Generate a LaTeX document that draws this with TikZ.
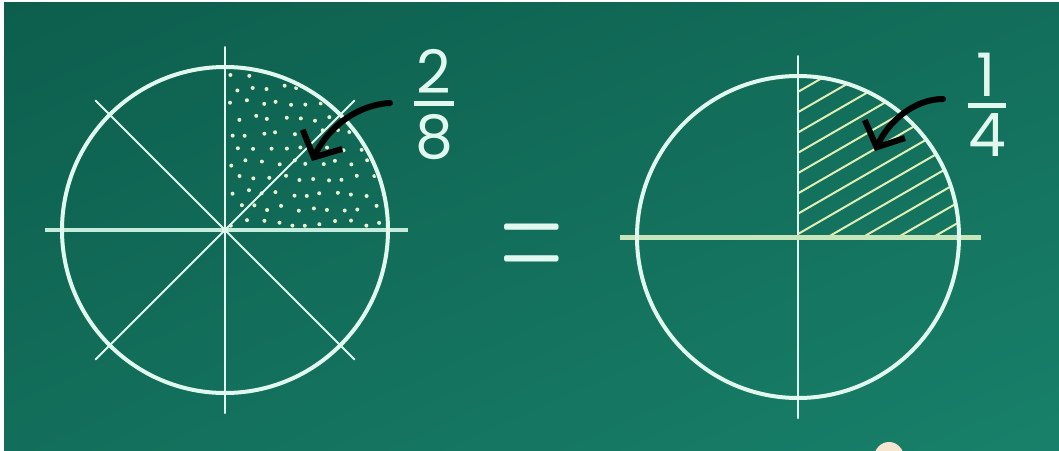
\documentclass[tikz,border=0pt]{standalone}
\usepackage{fontspec}
\setsansfont{Poppins}
\usetikzlibrary{arrows.meta, calc, shadings}
\definecolor{board}{RGB}{18,110,90}
\definecolor{boarddark}{RGB}{13,94,77}
\definecolor{boardlight}{RGB}{24,128,106}
\definecolor{chalkwhite}{RGB}{225,248,238}
\definecolor{chalkpale}{RGB}{196,236,220}
\definecolor{chalkgreen}{RGB}{198,230,186}
\definecolor{chalkhatch}{RGB}{225,238,180}
\definecolor{chalkdot}{RGB}{232,242,205}
\definecolor{skin}{RGB}{246,230,208}

\begin{document}
\begin{tikzpicture}[
  x=0.5pt, y=-0.5pt,
  rim/.style={draw=chalkwhite, line width=2pt},
  ray/.style={draw=chalkwhite, line width=1pt, line cap=round},
  hatch/.style={draw=chalkhatch, line width=1pt},
  fracbar/.style={draw=chalkwhite, line width=2.5pt},
  digit/.style={text=chalkwhite, font=\sffamily\fontsize{30}{30}\selectfont, inner sep=0pt},
  pointer/.style={draw=black, line width=3pt, line cap=round, -{Straight Barb[length=10pt, width=22pt]}}
]
\useasboundingbox (0,0) rectangle (1059,450);
\fill[white] (0,0) rectangle (1059,450);
\shade[upper left=boarddark, upper right=board, lower left=board, lower right=boardlight] (4,2) rectangle (1059,450);

\coordinate (o1) at (225,230);
\coordinate (o2) at (798,237);

% dotted eighths
\begin{scope}
  \clip (o1) -- ++(160,0) arc[start angle=0, end angle=-90, radius=160] -- cycle;
  \pgfmathsetseed{12}
  \foreach \i in {0,...,10}
    \foreach \j in {0,...,10}
      \fill[chalkdot] ($(o1)+({7+15*\i+7*mod(\j,2)+3*rand},{-7-15*\j+3*rand})$) circle[radius=2];
\end{scope}

% hatched quarter
\begin{scope}
  \clip (o2) -- ++(161,0) arc[start angle=0, end angle=-90, radius=161] -- cycle;
  \foreach \k in {-6,...,9}
    \draw[hatch] ($(o2)+(0,{-3-20.3*\k})$) ++(-30:-40) -- ++(-30:320);
\end{scope}

% left circle
\draw[ray] (o1) ++(0,-183) -- ++(0,366);
\draw[draw=chalkpale, line width=1.8pt] (o1) ++(-180,0) -- ++(363,0);
\foreach \a in {45,135}
  \draw[ray] (o1) ++(\a:183) -- ++({\a+180}:366);
\fill[chalkwhite] (o1) circle[radius=3];
\draw[rim] (o1) circle[radius=163];

% right circle
\draw[ray] (o2) ++(0,-181) -- ++(0,362);
\draw[draw=chalkgreen, line width=2.5pt] (o2) ++(-178,0) -- ++(361,0);
\draw[rim] (o2) circle[radius=161];

% fractions
\node[digit] (two) at (434,71) {2};
\node[digit] (eight) at (434,137) {8};
\coordinate (bar8) at ($(two.south)!0.5!(eight.north)$);
\draw[fracbar] (bar8) ++(-20,0) -- ++(40,0);

\node[digit] (one) at (986,75) {1};
\node[digit] (four) at (987,135) {4};
\coordinate (bar4) at ($(one.south)!0.5!(four.north)$);
\draw[fracbar] (bar4) ++(-19,0) -- ++(38,0);

% equals
\node[text=chalkwhite, font=\rmfamily\fontsize{43.5}{43.5}\selectfont, inner sep=0pt] (eq) at (532,256) {\scalebox{1}[2.05]{=}};

% pointers
\coordinate (tail8) at (390,103);
\coordinate (tip8) at (312,161);
\draw[pointer] (tail8) .. controls (356,105) and (328,128) .. (tip8);
\coordinate (tail4) at (943,99);
\coordinate (tip4) at (875,151);
\draw[pointer] (tail4) .. controls (914,99) and (888,122) .. (tip4);

% chalk holder at the edge
\fill[skin] (889,458) ellipse[x radius=15, y radius=16];
\end{tikzpicture}
\end{document}
